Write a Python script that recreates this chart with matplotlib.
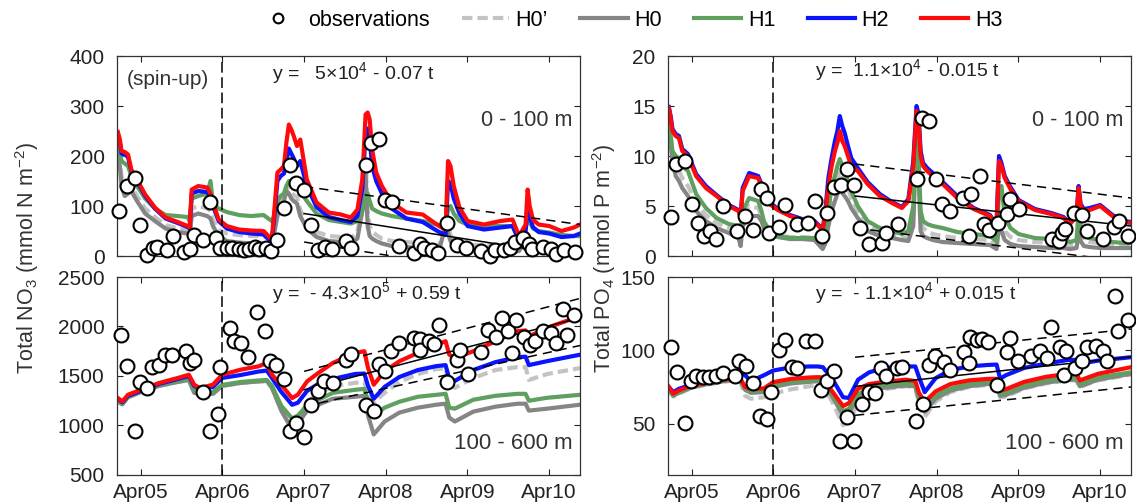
import numpy as np
import matplotlib
matplotlib.use('Agg')
import matplotlib.pyplot as plt
from matplotlib.lines import Line2D

plt.rcParams['font.family'] = ['Liberation Sans', 'DejaVu Sans']
plt.rcParams['mathtext.default'] = 'regular'

# time axis in decimal years
t_top = [2004.966, 2004.99, 2005.01, 2005.05, 2005.09, 2005.13, 2005.2, 2005.3, 2005.42, 2005.55,
         2005.7, 2005.82, 2005.845, 2005.87, 2005.95, 2006.06, 2006.1, 2006.13, 2006.2, 2006.3,
         2006.45, 2006.6, 2006.75, 2006.85, 2006.88, 2006.92, 2006.96, 2007.0, 2007.03, 2007.06,
         2007.09, 2007.12, 2007.16, 2007.2, 2007.28, 2007.4, 2007.55, 2007.7, 2007.82, 2007.9,
         2007.96, 2008.0, 2008.025, 2008.05, 2008.08, 2008.13, 2008.2, 2008.32, 2008.5, 2008.7,
         2008.9, 2008.98, 2009.01, 2009.04, 2009.08, 2009.15, 2009.25, 2009.45, 2009.65, 2009.8,
         2009.88, 2009.96, 2009.985, 2010.01, 2010.05, 2010.12, 2010.25, 2010.4, 2010.55, 2010.627]

t_bot = [2004.966, 2005.02, 2005.09, 2005.25, 2005.47, 2005.7, 2005.835, 2005.9, 2005.97, 2006.13,
         2006.243, 2006.47, 2006.69, 2006.79, 2006.853, 2006.967, 2007.1, 2007.17, 2007.284, 2007.42,
         2007.6, 2007.87, 2007.985, 2008.03, 2008.1, 2008.233, 2008.414, 2008.64, 2008.867, 2008.98,
         2009.025, 2009.093, 2009.319, 2009.591, 2009.862, 2009.96, 2010.0, 2010.224, 2010.627]

# NO3, 0-100 m
no3_top_h0p = [205, 190, 160, 140, 140, 140, 120, 95, 78, 62, 55, 52, 45, 95, 100, 95, 90, 72, 52, 45,
               42, 40, 40, 30, 60, 100, 115, 120, 140, 135, 128, 122, 118, 92, 65, 48, 40, 38, 35, 48,
               110, 200, 90, 60, 50, 42, 35, 30, 28, 25, 20, 75, 60, 42, 30, 25, 22, 22, 22, 15,
               18, 45, 32, 22, 18, 17, 15, 15, 15, 15]
no3_top_h0 = [200, 180, 140, 120, 125, 130, 110, 85, 70, 55, 48, 45, 40, 80, 85, 80, 75, 60, 40, 30,
              27, 25, 25, 20, 45, 80, 100, 110, 130, 125, 115, 110, 105, 80, 55, 38, 30, 28, 25, 35,
              90, 165, 60, 40, 35, 30, 25, 20, 18, 15, 12, 60, 45, 30, 20, 15, 13, 12, 12, 8,
              10, 30, 20, 12, 10, 10, 8, 8, 8, 8]
no3_top_h1 = [215, 205, 190, 185, 180, 160, 140, 115, 95, 82, 80, 78, 70, 115, 120, 125, 150, 105, 95, 88,
              82, 80, 82, 70, 80, 110, 120, 125, 140, 150, 145, 140, 135, 130, 110, 85, 72, 68, 65, 70,
              90, 120, 125, 110, 95, 90, 85, 80, 75, 70, 62, 55, 95, 100, 85, 70, 63, 60, 60, 60,
              40, 55, 75, 68, 55, 50, 47, 42, 40, 40]
no3_top_h2 = [240, 228, 205, 203, 198, 170, 150, 120, 95, 75, 66, 58, 55, 125, 130, 128, 118, 100, 70, 55,
              48, 45, 43, 28, 75, 150, 160, 165, 190, 215, 205, 195, 180, 190, 140, 98, 78, 72, 68, 80,
              135, 245, 255, 235, 180, 150, 125, 95, 75, 68, 48, 42, 150, 145, 115, 85, 60, 53, 57, 60,
              30, 50, 95, 80, 58, 48, 45, 38, 40, 45]
no3_top_h3 = [248, 233, 210, 208, 203, 173, 153, 123, 97, 77, 68, 60, 57, 133, 140, 137, 125, 107, 73, 60,
              53, 51, 50, 33, 87, 167, 173, 180, 227, 263, 253, 240, 220, 233, 153, 107, 87, 83, 77, 93,
              153, 283, 287, 273, 213, 167, 140, 107, 87, 83, 60, 53, 190, 180, 140, 97, 70, 63, 70, 73,
              40, 63, 133, 100, 73, 63, 60, 50, 57, 63]

# PO4, 0-100 m
po4_top_h0p = [13.0, 11.5, 10.0, 9.0, 8.5, 7.8, 7.0, 5.3, 4.1, 3.3, 2.8, 2.4, 1.6, 3.8, 5.0, 4.8, 4.0, 3.2, 2.5, 2.1,
               1.9, 1.9, 1.8, 1.0, 1.6, 3.8, 5.8, 7.0, 7.8, 8.5, 8.0, 7.5, 6.8, 5.8, 4.5, 3.0, 2.4, 2.1, 1.9, 1.8,
               4.0, 13.0, 9.0, 3.5, 2.8, 2.5, 2.2, 2.0, 1.8, 1.7, 1.6, 1.1, 4.5, 4.0, 2.5, 1.9, 1.6, 1.4, 1.3, 1.3,
               1.1, 1.2, 3.5, 2.3, 1.6, 1.4, 1.3, 1.1, 1.0, 1.0]
po4_top_h0 = [12.5, 11.0, 9.5, 8.0, 7.5, 6.8, 6.0, 4.5, 3.5, 2.8, 2.3, 1.8, 1.0, 3.0, 4.0, 4.0, 3.5, 2.8, 2.2, 1.9,
              1.7, 1.7, 1.6, 0.7, 1.2, 3.0, 4.5, 5.5, 6.2, 6.7, 6.3, 6.0, 5.5, 4.8, 3.8, 2.5, 2.0, 1.8, 1.6, 1.5,
              3.0, 13.0, 8.0, 2.5, 2.0, 1.8, 1.6, 1.4, 1.3, 1.2, 1.1, 0.7, 3.0, 2.5, 1.6, 1.2, 1.0, 0.9, 0.8, 0.8,
              0.7, 0.8, 2.3, 1.5, 1.0, 0.9, 0.8, 0.8, 0.8, 0.8]
po4_top_h1 = [14.0, 12.0, 10.5, 10.0, 9.8, 9.0, 8.5, 6.2, 4.8, 3.8, 3.2, 3.0, 2.5, 4.5, 5.8, 5.5, 4.5, 3.5, 2.5, 2.0,
              1.8, 1.8, 1.8, 1.2, 2.0, 4.5, 7.0, 8.0, 9.0, 9.7, 9.0, 8.5, 7.5, 6.5, 5.0, 3.5, 2.8, 2.5, 2.2, 2.5,
              5.0, 13.0, 10.0, 4.5, 3.5, 3.2, 3.0, 2.8, 2.4, 2.2, 2.0, 1.5, 6.5, 7.0, 4.0, 2.8, 2.2, 1.8, 1.7, 1.7,
              1.4, 1.6, 4.5, 3.0, 2.0, 1.8, 1.6, 1.4, 1.3, 1.3]
po4_top_h2 = [14.9, 13.9, 12.7, 12.2, 12.0, 10.7, 10.2, 8.2, 7.0, 6.1, 5.1, 4.6, 4.0, 6.8, 8.3, 8.0, 7.2, 6.3, 5.4, 4.7,
              4.1, 3.7, 3.5, 2.7, 4.3, 7.8, 9.8, 11.5, 12.5, 14.0, 13.0, 12.3, 11.0, 9.8, 8.8, 7.4, 6.2, 5.4, 4.9, 5.7,
              9.5, 15.0, 14.2, 10.5, 9.3, 8.8, 8.3, 7.4, 6.0, 4.8, 4.1, 3.1, 10.0, 9.3, 8.0, 6.9, 5.6, 4.7, 4.3, 3.9,
              3.3, 4.1, 7.0, 5.2, 4.7, 4.8, 5.1, 4.1, 3.5, 3.4]
po4_top_h3 = [14.8, 13.7, 12.5, 12.0, 11.8, 10.5, 10.0, 8.0, 6.8, 6.0, 5.0, 4.5, 3.8, 6.5, 8.0, 7.8, 7.0, 6.0, 5.2, 4.6,
              4.0, 3.6, 3.4, 2.6, 4.0, 7.0, 9.0, 10.5, 11.3, 12.5, 11.5, 11.0, 10.0, 9.0, 8.5, 7.2, 6.0, 5.3, 4.8, 5.5,
              9.0, 14.5, 13.5, 10.0, 9.0, 8.5, 8.0, 7.2, 5.8, 4.7, 4.0, 3.0, 9.5, 9.0, 7.8, 6.7, 5.5, 4.6, 4.2, 3.8,
              3.2, 4.0, 6.8, 5.0, 4.6, 4.6, 5.0, 4.0, 3.4, 3.3]

# NO3, 100-600 m
no3_bot_h0p = [1240, 1215, 1285, 1340, 1400, 1440, 1460, 1330, 1320, 1320, 1400, 1430, 1445, 1450, 1380,
               1160, 1000, 1060, 1240, 1320, 1400, 1430, 1440, 1330, 1230, 1330, 1440, 1520, 1570, 1580,
               1420, 1380, 1480, 1560, 1590, 1590, 1460, 1520, 1580]
no3_bot_h0 = [1240, 1215, 1285, 1340, 1400, 1440, 1460, 1330, 1320, 1320, 1400, 1430, 1445, 1450, 1380,
              1150, 960, 1020, 1150, 1210, 1270, 1290, 1300, 1100, 910, 1040, 1130, 1180, 1210, 1220,
              1080, 1040, 1140, 1190, 1220, 1220, 1150, 1170, 1210]
no3_bot_h1 = [1250, 1225, 1290, 1340, 1410, 1450, 1470, 1360, 1340, 1340, 1410, 1440, 1455, 1460, 1400,
              1200, 1070, 1100, 1200, 1260, 1330, 1360, 1370, 1250, 1100, 1180, 1240, 1290, 1310, 1320,
              1180, 1170, 1260, 1300, 1320, 1320, 1250, 1280, 1310]
no3_bot_h2 = [1270, 1235, 1300, 1350, 1420, 1470, 1500, 1400, 1370, 1390, 1480, 1510, 1545, 1555, 1480,
              1340, 1209, 1230, 1350, 1420, 1470, 1520, 1525, 1400, 1270, 1390, 1490, 1560, 1600, 1610,
              1470, 1450, 1560, 1640, 1690, 1695, 1610, 1650, 1715]
no3_bot_h3 = [1277, 1243, 1311, 1361, 1429, 1480, 1513, 1412, 1378, 1412, 1513, 1564, 1598, 1632, 1513,
              1412, 1277, 1311, 1446, 1530, 1632, 1733, 1750, 1581, 1412, 1547, 1649, 1733, 1817, 1851,
              1716, 1682, 1750, 1851, 1953, 1960, 1900, 1987, 2105]

# PO4, 100-600 m
po4_bot_h0p = [73, 68.5, 70.5, 74.5, 77, 79, 79.8, 69, 67, 68, 70.5, 73.5, 75.5, 76.5, 76,
               65, 49, 51, 64, 70, 73.5, 75.5, 75, 63, 54.6, 65, 71.5, 75, 76.5, 77,
               68, 68.5, 74, 77.5, 79.5, 79.5, 75, 79.5, 83.5]
po4_bot_h0 = [73, 69, 71, 75, 77.3, 79.5, 80.2, 73, 71, 71.5, 75, 77.5, 78.5, 79, 78.5,
              68.5, 55.7, 57.5, 68, 72, 74.5, 76, 75.5, 66, 58, 67, 72.5, 75.5, 77, 77.3,
              69, 69.5, 74.5, 78, 80, 80, 75.5, 80, 84]
po4_bot_h1 = [73.8, 69.5, 71.5, 75.5, 77.8, 80, 80.8, 74, 72, 72.5, 76, 78.5, 79.5, 80, 79.5,
              70, 58.5, 60, 70, 74, 76, 77.5, 77, 68, 61.4, 69, 74, 77, 78.5, 78.8,
              70.5, 71, 76, 79.5, 81.5, 81.5, 77, 81.5, 85]
po4_bot_h2 = [75, 71.5, 73.8, 76.7, 80, 84, 86.2, 83, 79, 83, 86.2, 88.5, 89, 89, 88.5,
              80.6, 68, 67.5, 80, 85, 88, 89, 89, 81.7, 71.5, 81, 86.5, 89, 90, 90.3,
              80.6, 83, 88, 91, 93.5, 93.5, 90.8, 93, 95.3]
po4_bot_h3 = [75, 70.4, 72.7, 76, 78.3, 80.5, 81.3, 75, 73.8, 74, 78.3, 80.6, 81.5, 81.7, 81.5,
              72, 62, 64, 73.8, 77, 78.5, 80, 79, 71, 64.8, 72, 77, 79.5, 80.5, 80.6,
              72.7, 73.5, 78.5, 82, 84, 84, 79.5, 84, 88.5]

# observations
no3_top_obs_t = [2004.985, 2005.075, 2005.179, 2005.238, 2005.328, 2005.392, 2005.451, 2005.564, 2005.641, 2005.776,
                 2005.844, 2005.894, 2006.007, 2006.098, 2006.165, 2006.220, 2006.297, 2006.369, 2006.446, 2006.514,
                 2006.568, 2006.641, 2006.695, 2006.776, 2006.844, 2006.912, 2007.003, 2007.080, 2007.148, 2007.247,
                 2007.337, 2007.419, 2007.500, 2007.591, 2007.758, 2007.826, 2008.000, 2008.066, 2008.166, 2008.233,
                 2008.324, 2008.405, 2008.595, 2008.664, 2008.710, 2008.813, 2008.890, 2008.994, 2009.116, 2009.229,
                 2009.410, 2009.523, 2009.591, 2009.690, 2009.772, 2009.826, 2009.930, 2009.998, 2010.044, 2010.179,
                 2010.270, 2010.337, 2010.428, 2010.564]
no3_top_obs = [90, 140, 157, 63, 3, 17, 19, 12, 40, 9, 15, 43, 33, 108, 37, 17, 17, 17, 15, 13,
               15, 19, 15, 17, 11, 33, 97, 183, 147, 133, 63, 12, 19, 15, 30, 17, 183, 227, 235, 113,
               108, 20, 7, 25, 17, 13, 7, 67, 23, 17, 10, 0, 13, 12, 17, 28, 37, 25, 15, 19,
               15, 5, 12, 9]

po4_top_obs_t = [2004.990, 2005.057, 2005.159, 2005.247, 2005.322, 2005.397, 2005.468, 2005.543, 2005.632, 2005.796,
                 2005.897, 2005.999, 2006.097, 2006.172, 2006.194, 2006.318, 2006.384, 2006.539, 2006.672, 2006.751,
                 2006.840, 2006.902, 2006.990, 2007.079, 2007.150, 2007.238, 2007.313, 2007.415, 2007.579, 2007.623,
                 2007.769, 2008.000, 2008.066, 2008.154, 2008.243, 2008.309, 2008.406, 2008.574, 2008.641, 2008.671,
                 2008.774, 2008.832, 2008.884, 2008.995, 2009.105, 2009.150, 2009.261, 2009.659, 2009.747, 2009.778,
                 2009.814, 2009.924, 2010.026, 2010.088, 2010.278, 2010.424, 2010.477, 2010.588]
po4_top_obs = [3.9, 9.2, 9.5, 5.2, 3.3, 2.0, 2.5, 1.7, 5.0, 2.5, 4.0, 2.6, 6.7, 5.8, 2.3, 2.9, 5.1, 3.2, 3.3, 5.5,
               2.0, 4.3, 6.9, 7.1, 8.7, 7.1, 2.8, 1.2, 1.3, 2.3, 3.2, 7.7, 13.8, 13.5, 7.7, 5.2, 4.5, 5.8, 2.0, 6.2,
               8.0, 3.2, 2.6, 3.3, 4.2, 5.7, 4.7, 1.7, 1.5, 2.3, 2.7, 4.3, 4.1, 2.5, 1.7, 2.9, 3.5, 2.0]

no3_bot_obs_t = [2004.998, 2005.075, 2005.179, 2005.238, 2005.328, 2005.383, 2005.464, 2005.541, 2005.632, 2005.799,
                 2005.844, 2005.903, 2006.007, 2006.098, 2006.188, 2006.220, 2006.333, 2006.387, 2006.478, 2006.559,
                 2006.672, 2006.763, 2006.831, 2006.899, 2007.003, 2007.080, 2007.148, 2007.247, 2007.328, 2007.419,
                 2007.491, 2007.600, 2007.758, 2007.826, 2008.007, 2008.098, 2008.166, 2008.233, 2008.315, 2008.414,
                 2008.595, 2008.664, 2008.664, 2008.776, 2008.844, 2008.903, 2009.003, 2009.116, 2009.161, 2009.251,
                 2009.410, 2009.500, 2009.600, 2009.672, 2009.749, 2009.794, 2009.840, 2009.944, 2010.008, 2010.080,
                 2010.179, 2010.270, 2010.337, 2010.414, 2010.469, 2010.559]
no3_bot_obs = [1912, 1605, 946, 1439, 1378, 1588, 1608, 1709, 1709, 1757, 1632, 1665, 1338, 946, 1115, 1588,
               1986, 1858, 1834, 1689, 2148, 1959, 1655, 1615, 1473, 946, 1024, 888, 1209, 1345, 1453, 1429,
               1665, 1723, 1203, 1142, 1622, 1554, 1757, 1834, 1885, 1878, 1767, 1858, 1824, 2020, 1439, 1665,
               1767, 1520, 1743, 1969, 1892, 2088, 1959, 1733, 2061, 1892, 1811, 1851, 1953, 1936, 1834, 2172,
               1919, 2115]

po4_bot_obs_t = [2004.990, 2005.066, 2005.159, 2005.234, 2005.300, 2005.380, 2005.455, 2005.543, 2005.632, 2005.778,
                 2005.831, 2005.906, 2005.999, 2006.088, 2006.163, 2006.216, 2006.309, 2006.384, 2006.473, 2006.539,
                 2006.650, 2006.751, 2006.827, 2006.902, 2006.990, 2007.061, 2007.150, 2007.238, 2007.327, 2007.415,
                 2007.490, 2007.566, 2007.623, 2007.756, 2007.822, 2007.990, 2008.079, 2008.154, 2008.229, 2008.331,
                 2008.406, 2008.583, 2008.641, 2008.654, 2008.742, 2008.805, 2008.876, 2008.982, 2009.105, 2009.150,
                 2009.247, 2009.406, 2009.512, 2009.592, 2009.645, 2009.760, 2009.804, 2009.836, 2009.947, 2010.026,
                 2010.088, 2010.203, 2010.278, 2010.336, 2010.433, 2010.468, 2010.588]
po4_bot_obs = [102.5, 85.1, 50.5, 79.0, 82.8, 81.7, 81.7, 82.8, 84.4, 82.8, 93.0, 89.6, 77.6, 55.3, 53.5, 71.5,
               100.3, 107.0, 88.9, 88.0, 106.1, 106.1, 73.1, 79.0, 86.2, 38.3, 54.6, 38.3, 63.6, 71.5, 70.9, 88.0,
               82.8, 88.0, 88.9, 51.9, 63.6, 90.3, 96.4, 91.9, 86.7, 98.7, 91.2, 108.9, 107.0, 107.7, 105.5, 76.1,
               98.7, 108.4, 92.6, 96.4, 99.8, 94.8, 115.6, 102.5, 83.5, 99.4, 88.0, 93.0, 102.5, 103.2, 99.4, 92.6,
               137.1, 113.4, 120.6]

# linear trends after spin-up (fit, upper and lower bounds at both ends)
trend_t = [2007.247, 2010.627]
no3_top_fit, no3_top_hi, no3_top_lo = [85, -2], [139, 63], [28, -60]
po4_top_fit, po4_top_hi, po4_top_lo = [6.0, 3.0], [9.2, 5.8], [2.8, -0.6]
no3_bot_fit, no3_bot_hi, no3_bot_lo = [1361, 2088], [1547, 2284], [1193, 1808]
po4_bot_fit, po4_bot_hi, po4_bot_lo = [75.4, 95.5], [95.3, 114.5], [55.7, 75.0]

tick_years = [2005, 2006, 2007, 2008, 2009, 2010]
tick_labels = ['Apr05', 'Apr06', 'Apr07', 'Apr08', 'Apr09', 'Apr10']
spinup_end = 2006.247

colors = {'H0p': '#c3c3c3', 'H0': '#858585', 'H1': '#5f9f5f', 'H2': '#0a14ff', 'H3': '#ff0a0a'}
LW = 3.0

fig = plt.figure(figsize=(11.36, 5.03), dpi=100)
ax_nt = fig.add_axes([0.103, 0.491, 0.4076, 0.3976])
ax_nb = fig.add_axes([0.103, 0.0557, 0.4076, 0.3936])
ax_pt = fig.add_axes([0.588, 0.491, 0.4076, 0.3976])
ax_pb = fig.add_axes([0.588, 0.0557, 0.4076, 0.3936])


def draw_panel(ax, t, h0p, h0, h1, h2, h3, obs_t, obs, fit, hi, lo):
    ax.plot(t, h0p, color=colors['H0p'], lw=LW, dashes=(2.5, 1.2))
    ax.plot(t, h0, color=colors['H0'], lw=LW)
    ax.plot(t, h1, color=colors['H1'], lw=LW)
    ax.plot(t, h2, color=colors['H2'], lw=LW)
    ax.plot(t, h3, color=colors['H3'], lw=LW)
    ax.plot(trend_t, fit, color='k', lw=1.1)
    ax.plot(trend_t, hi, color='k', lw=1.1, dashes=(6, 4))
    ax.plot(trend_t, lo, color='k', lw=1.1, dashes=(6, 4))
    ax.plot(obs_t, obs, 'o', ms=10, mfc='white', mec='black', mew=1.5, clip_on=False, zorder=5)
    ax.axvline(spinup_end, color='k', lw=1.1, dashes=(7, 3))


def style(ax, ylim, yticks, show_x):
    ax.set_xlim(2004.955, 2010.627)
    ax.set_ylim(*ylim)
    ax.set_yticks(yticks)
    ax.set_xticks([y + 0.247 for y in tick_years])
    ax.set_xticklabels(tick_labels if show_x else [])
    ax.tick_params(direction='in', top=True, right=True, length=4, width=0.8,
                   labelsize=15, colors='#222222', pad=6)
    ax.tick_params(axis='y', pad=9)
    for s in ax.spines.values():
        s.set_linewidth(0.9)
        s.set_color('#333333')


draw_panel(ax_nt, t_top, no3_top_h0p, no3_top_h0, no3_top_h1, no3_top_h2, no3_top_h3,
           no3_top_obs_t, no3_top_obs, no3_top_fit, no3_top_hi, no3_top_lo)
draw_panel(ax_nb, t_bot, no3_bot_h0p, no3_bot_h0, no3_bot_h1, no3_bot_h2, no3_bot_h3,
           no3_bot_obs_t, no3_bot_obs, no3_bot_fit, no3_bot_hi, no3_bot_lo)
draw_panel(ax_pt, t_top, po4_top_h0p, po4_top_h0, po4_top_h1, po4_top_h2, po4_top_h3,
           po4_top_obs_t, po4_top_obs, po4_top_fit, po4_top_hi, po4_top_lo)
draw_panel(ax_pb, t_bot, po4_bot_h0p, po4_bot_h0, po4_bot_h1, po4_bot_h2, po4_bot_h3,
           po4_bot_obs_t, po4_bot_obs, po4_bot_fit, po4_bot_hi, po4_bot_lo)

style(ax_nt, (0, 400), [0, 100, 200, 300, 400], False)
style(ax_nb, (500, 2500), [500, 1000, 1500, 2000, 2500], True)
style(ax_pt, (0, 20), [0, 5, 10, 15, 20], False)
style(ax_pb, (15, 150), [50, 100, 150], True)

eq_kw = dict(fontsize=14, ha='left', va='center', color='#222222')
ax_nt.text(0.335, 0.915, 'y =   5\u00d710$^{4}$ - 0.07 t', transform=ax_nt.transAxes, **eq_kw)
ax_nb.text(0.335, 0.92, 'y =  - 4.3\u00d710$^{5}$ + 0.59 t', transform=ax_nb.transAxes, **eq_kw)
ax_pt.text(0.317, 0.93, 'y =  1.1\u00d710$^{4}$ - 0.015 t', transform=ax_pt.transAxes, **eq_kw)
ax_pb.text(0.317, 0.92, 'y =  - 1.1\u00d710$^{4}$ + 0.015 t', transform=ax_pb.transAxes, **eq_kw)

ax_nt.text(0.11, 0.885, '(spin-up)', transform=ax_nt.transAxes, fontsize=15,
           ha='center', va='center', color='#333333')

depth_kw = dict(fontsize=15.5, ha='right', va='center', color='#333333')
ax_nt.text(0.983, 0.68, '0 - 100 m', transform=ax_nt.transAxes, **depth_kw)
ax_pt.text(0.983, 0.68, '0 - 100 m', transform=ax_pt.transAxes, **depth_kw)
ax_nb.text(0.983, 0.16, '100 - 600 m', transform=ax_nb.transAxes, fontsize=16, ha='right',
           va='center', color='#333333')
ax_pb.text(0.983, 0.16, '100 - 600 m', transform=ax_pb.transAxes, fontsize=16, ha='right',
           va='center', color='#333333')

fig.text(0.024, 0.487, 'Total NO$_3$ (mmol N m$^{-2}$)', rotation=90, fontsize=15.5,
         ha='center', va='center', color='#333333')
fig.text(0.532, 0.487, 'Total PO$_4$ (mmol P m$^{-2}$)', rotation=90, fontsize=15.5,
         ha='center', va='center', color='#333333')

handles = [
    Line2D([], [], ls='none', marker='o', ms=7, mfc='white', mec='black', mew=1.5),
    Line2D([], [], color=colors['H0p'], lw=LW, dashes=(2.5, 1.2)),
    Line2D([], [], color=colors['H0'], lw=LW),
    Line2D([], [], color=colors['H1'], lw=LW),
    Line2D([], [], color=colors['H2'], lw=LW),
    Line2D([], [], color=colors['H3'], lw=LW),
]
labels = ['observations', 'H0\u2019', 'H0', 'H1', 'H2', 'H3']
fig.legend(handles, labels, loc='center', bbox_to_anchor=(0.553, 0.96), ncol=6,
           frameon=False, fontsize=15.5, handlelength=2.2, handletextpad=0.3,
           columnspacing=1.5, borderaxespad=0)

fig.savefig('out.png', dpi=100)
